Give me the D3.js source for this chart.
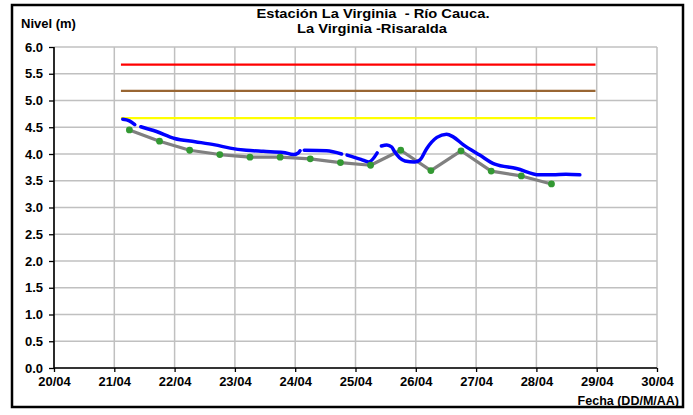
<!DOCTYPE html>
<html><head><meta charset="utf-8">
<script src="https://cdn.jsdelivr.net/npm/d3@7"></script>
<style>body{margin:0;background:#fff}svg{display:block}text{font-family:"Liberation Sans",Arial,sans-serif;font-weight:bold;fill:#000}</style>
</head><body><svg id="c" width="693" height="415"></svg>
<script>
// Data
const xTicks = [20,21,22,23,24,25,26,27,28,29,30];
const xTickLabels = ["20/04","21/04","22/04","23/04","24/04","25/04","26/04","27/04","28/04","29/04","30/04"];
const yTicks = [0,0.5,1,1.5,2,2.5,3,3.5,4,4.5,5,5.5,6];
const thresholdValues = [5.67, 5.18, 4.67];
const thresholdColors = ["#ff0000", "#996633", "#ffff00"];
const thresholdStart = 21.11, thresholdEnd = 28.98;
// forecast (gray line, green points): day, level
const forecastDays = [21.25,21.75,22.25,22.75,23.25,23.75,24.25,24.75,25.25,25.75,26.25,26.75,27.25,27.75,28.25];
const forecastLevels = [4.45,4.24,4.07,3.99,3.94,3.94,3.91,3.84,3.79,4.07,3.69,4.06,3.68,3.59,3.44];
// observed level (blue), in segments separated by gaps
const observedSegments = [
  [[21.14,4.65],[21.25,4.62],[21.34,4.55]],
  [[21.44,4.51],[21.7,4.42],[22.0,4.29],[22.34,4.23],[22.67,4.17],[22.92,4.11],[23.19,4.07],[23.47,4.05],[23.8,4.03],[23.97,3.99],[24.05,4.02],[24.08,4.06]],
  [[24.15,4.07],[24.52,4.06],[24.77,4.0]],
  [[24.86,3.98],[25.09,3.9],[25.22,3.85],[25.36,4.02]],
  [[25.43,4.15],[25.52,4.17],[25.6,4.13],[25.65,4.04],[25.73,3.93],[25.82,3.87],[25.98,3.85],[26.07,3.89],[26.18,4.1],[26.35,4.31],[26.51,4.37],[26.62,4.32],[26.79,4.17],[27.06,3.98],[27.31,3.81],[27.67,3.73],[28.05,3.61],[28.27,3.61],[28.49,3.62],[28.72,3.61]]
];

const svg = d3.select("#c");
const L=54, R=657, T=47, B=368;
const x = d3.scaleLinear().domain([20,30]).range([L,R]);
const y = d3.scaleLinear().domain([0,6]).range([B,T]);

// frame
svg.append("rect").attr("x",12).attr("y",5).attr("width",671).attr("height",402)
  .attr("fill","#fff").attr("stroke","#000").attr("stroke-width",2.5);

// grid
const g = svg.append("g");
g.selectAll(".hg").data(yTicks).join("line")
  .attr("x1",L).attr("x2",R).attr("y1",d=>y(d)).attr("y2",d=>y(d))
  .attr("stroke","#c0c0c0").attr("stroke-width",1.5);
g.selectAll(".vg").data(xTicks).join("line")
  .attr("x1",d=>x(d)).attr("x2",d=>x(d)).attr("y1",T).attr("y2",B)
  .attr("stroke","#c0c0c0").attr("stroke-width",1.5);

// axes
const yAxis = svg.append("g").attr("transform",`translate(${L},0)`)
  .call(d3.axisLeft(y).tickValues(yTicks).tickFormat(d3.format(".1f")).tickSize(5).tickPadding(6));
const xAxis = svg.append("g").attr("transform",`translate(0,${B})`)
  .call(d3.axisBottom(x).tickValues(xTicks).tickFormat((d,i)=>xTickLabels[i]).tickSize(4).tickPadding(5));
[yAxis,xAxis].forEach(a=>{
  a.select(".domain").attr("stroke","#000").attr("stroke-width",1.6);
  a.selectAll(".tick line").attr("stroke","#000").attr("stroke-width",1.3);
  a.selectAll("text").attr("font-size",13).attr("font-family","Liberation Sans, Arial, sans-serif").attr("font-weight","bold").attr("fill","#000");
});
yAxis.select(".domain").attr("d",`M0,${B}V${T}`);
xAxis.select(".domain").attr("d",`M${L},0H${R}`);

// thresholds
svg.selectAll(".thr").data(thresholdValues).join("line")
  .attr("x1",x(thresholdStart)).attr("x2",x(thresholdEnd))
  .attr("y1",d=>y(d)).attr("y2",d=>y(d))
  .attr("stroke",(d,i)=>thresholdColors[i]).attr("stroke-width",2.2);

// forecast
const fc = forecastDays.map((d,i)=>[d,forecastLevels[i]]);
const line = d3.line().x(d=>x(d[0])).y(d=>y(d[1]));
svg.append("path").attr("d",line(fc)).attr("fill","none")
  .attr("stroke","#808080").attr("stroke-width",3.2).attr("stroke-linejoin","round");

// observed
svg.selectAll(".obs").data(observedSegments).join("path")
  .attr("d",d=>line.curve(d3.curveMonotoneX)(d)).attr("fill","none")
  .attr("stroke","#0000ff").attr("stroke-width",3.5).attr("stroke-linecap","round").attr("stroke-linejoin","round");

// points
svg.selectAll(".pt").data(fc).join("circle")
  .attr("cx",d=>x(d[0])).attr("cy",d=>y(d[1])).attr("r",3.4).attr("fill","#339933");

// texts
svg.append("text").attr("x",373).attr("y",18).attr("text-anchor","middle").attr("font-size",13)
  .attr("textLength",233).attr("lengthAdjust","spacingAndGlyphs").style("white-space","pre")
  .text("Estación La Virginia  - Río Cauca.");
svg.append("text").attr("x",372).attr("y",33).attr("text-anchor","middle").attr("font-size",13)
  .attr("textLength",150).attr("lengthAdjust","spacingAndGlyphs")
  .text("La Virginia -Risaralda");
svg.append("text").attr("x",21).attr("y",28).attr("font-size",13).text("Nivel (m)");
svg.append("text").attr("x",679).attr("y",405).attr("text-anchor","end").attr("font-size",12.5).text("Fecha (DD/M/AA)");
</script></body></html>
